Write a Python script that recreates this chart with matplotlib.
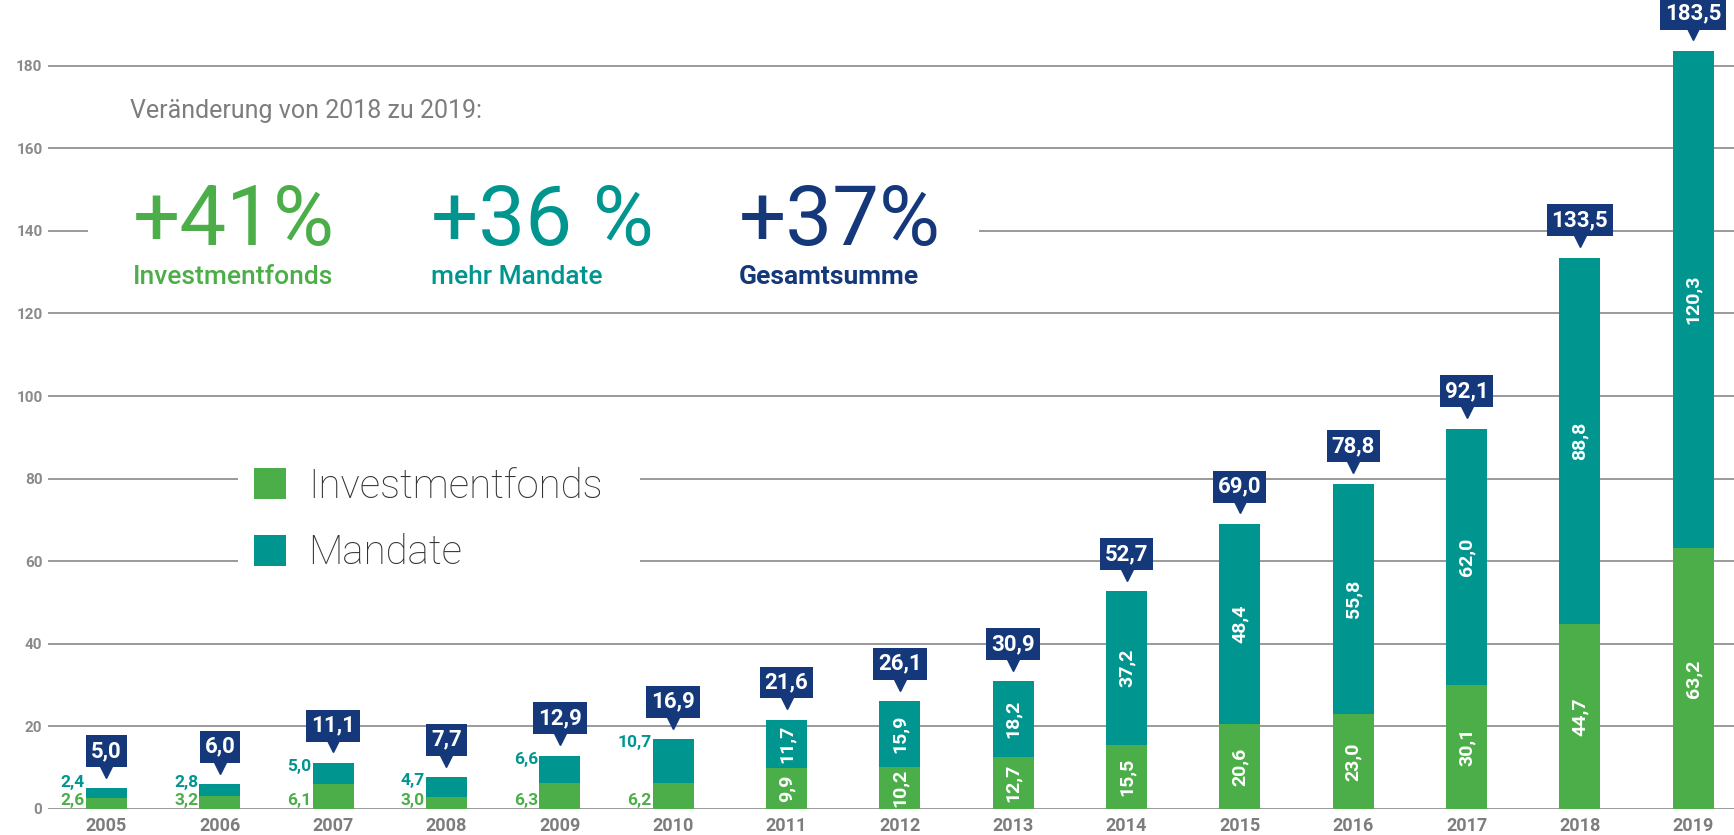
import matplotlib
matplotlib.use('Agg')
import matplotlib.pyplot as plt
from matplotlib.patches import Rectangle
from matplotlib.transforms import ScaledTranslation

years = [2005, 2006, 2007, 2008, 2009, 2010, 2011, 2012, 2013, 2014, 2015, 2016, 2017, 2018, 2019]
investmentfonds = [2.6, 3.2, 6.1, 3.0, 6.3, 6.2, 9.9, 10.2, 12.7, 15.5, 20.6, 23.0, 30.1, 44.7, 63.2]
mandate = [2.4, 2.8, 5.0, 4.7, 6.6, 10.7, 11.7, 15.9, 18.2, 37.2, 48.4, 55.8, 62.0, 88.8, 120.3]
yticks = [0, 20, 40, 60, 80, 100, 120, 140, 160, 180]

changes = ['+41%', '+36 %', '+37%']
change_labels = ['Investmentfonds', 'mehr Mandate', 'Gesamtsumme']

GREEN = '#4cae48'
TEAL = '#00968f'
NAVY = '#14387a'
GRAY = '#7d7d7d'

plt.rcParams['font.family'] = ['Roboto', 'DejaVu Sans']


def fmt(v):
    return ('%.1f' % v).replace('.', ',')


W, H = 1734, 835
fig = plt.figure(figsize=(W / 100, H / 100), dpi=100)
ax = fig.add_axes([48 / W, (H - 809) / H, 1 - 48 / W, 809 / H])
ax.set_ylim(0, 809 / 4.13)
ax.set_xlim(-0.516, 14.36)

x = list(range(len(years)))
totals = [round(a + b, 1) for a, b in zip(investmentfonds, mandate)]

ax.bar(x, investmentfonds, width=0.36, color=GREEN, zorder=3, label='Investmentfonds')
ax.bar(x, mandate, width=0.36, bottom=investmentfonds, color=TEAL, zorder=3, label='Mandate')

for s in ax.spines.values():
    s.set_visible(False)
ax.set_yticks(yticks)
ax.yaxis.grid(True, color='#9a9a9a', lw=1.4, zorder=0)
ax.set_axisbelow(True)
ax.tick_params(axis='y', length=0, pad=4, labelsize=11, labelcolor='#8a8a8a')
ax.tick_params(axis='x', length=0, pad=6, labelsize=13, labelcolor=GRAY)
for lab in ax.get_yticklabels():
    lab.set_fontweight('bold')
ax.set_xticks(x)
ax.set_xticklabels([str(y) for y in years], fontweight='bold')

pointer = ax.transData + ScaledTranslation(0, 12 / 72, fig.dpi_scale_trans)

# segment labels and total boxes
for i, (a, b, t) in enumerate(zip(investmentfonds, mandate, totals)):
    if i < 6:
        ax.text(i - 0.19, 0.3, fmt(a), ha='right', va='bottom', color=GREEN,
                fontsize=12.5, fontweight='bold', zorder=4)
        ax.text(i - 0.19, max(6.3, t - 0.8), fmt(b), ha='right', va='center', color=TEAL,
                fontsize=12.5, fontweight='bold', zorder=4)
    else:
        ax.text(i, a / 2, fmt(a), ha='center', va='center', rotation=90, color='white',
                fontsize=14, fontweight='bold', zorder=4)
        ax.text(i, a + b / 2, fmt(b), ha='center', va='center', rotation=90, color='white',
                fontsize=14, fontweight='bold', zorder=4)
    ax.plot([i], [t], marker='v', ms=8, color=NAVY, zorder=5, clip_on=False, transform=pointer)
    ax.annotate(fmt(t), xy=(i, t), xytext=(0, 19), textcoords='offset points', ha='center',
                va='bottom', color='white', fontsize=16, fontweight='bold', zorder=6,
                bbox=dict(boxstyle='square,pad=0.22', fc=NAVY, ec='none'))

# white areas behind the header texts and the legend
ax.add_patch(Rectangle((-0.16, 123.5), 7.86, 32.2, fc='white', ec='none', zorder=1))
ax.add_patch(Rectangle((1.16, 52.5), 3.55, 36.4, fc='white', ec='none', zorder=1))

fig.text(130 / W, 1 - 111 / H, 'Veränderung von 2018 zu 2019:', color=GRAY, fontsize=18,
         va='center', ha='left')
for j, (big, small, col, wt) in enumerate(zip(changes, change_labels, [GREEN, TEAL, NAVY],
                                              ['medium', 'medium', 'bold'])):
    x0 = [133, 431, 739][j]
    fig.text(x0 / W, 1 - 245 / H, big, color=col, fontsize=60, va='baseline', ha='left')
    fig.text(x0 / W, 1 - 284 / H, small, color=col, fontsize=19, fontweight=wt,
             va='baseline', ha='left')

leg = ax.legend(loc='upper left', bbox_to_anchor=((219 - 48) / (W - 48), (809 - 432) / 809),
                frameon=False, borderpad=0.37,
                handlelength=0.8, handleheight=0.8, handletextpad=0.55, labelspacing=0.7,
                prop={'family': ['Roboto', 'DejaVu Sans'], 'weight': 'light', 'size': 29})
for t in leg.get_texts():
    t.set_color('#333333')

fig.savefig('out.png', dpi=100)
